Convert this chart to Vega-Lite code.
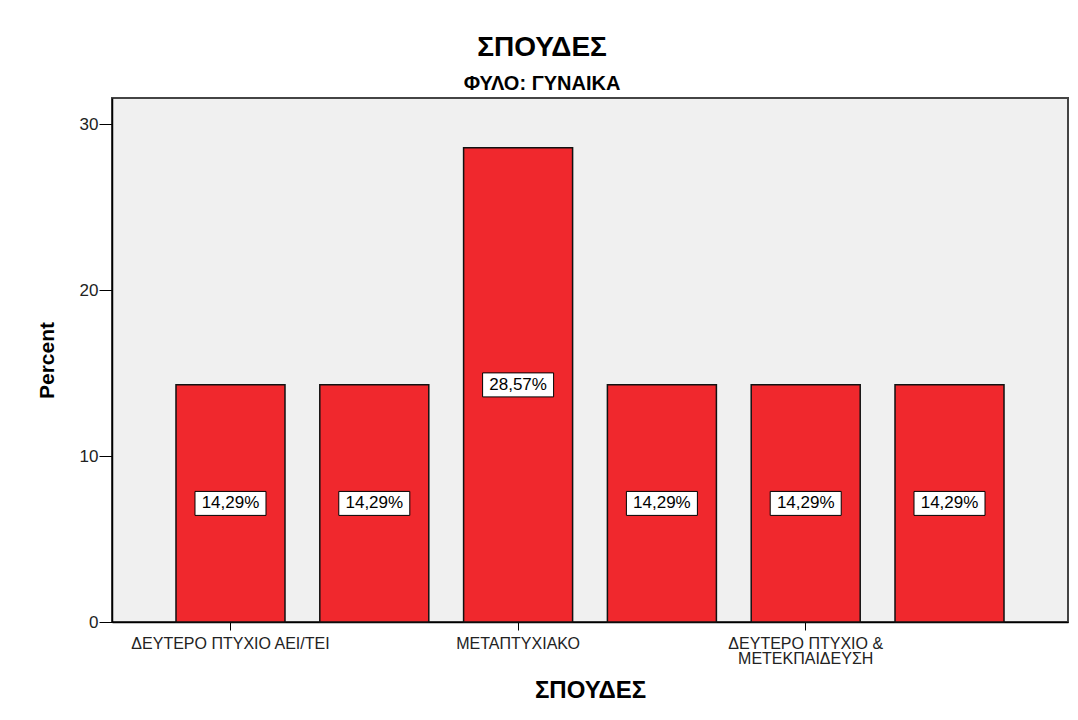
{
  "$schema": "https://vega.github.io/schema/vega-lite/v6.json",
  "width": 956,
  "height": 524,
  "autosize": {"type": "none"},
  "padding": {"left": 112, "top": 98, "right": 10, "bottom": 98},
  "background": "white",
  "config": {
    "font": "Liberation Sans",
    "view": {"fill": "#f0f0f0", "stroke": "#444444", "strokeWidth": 2}
  },
  "title": {
    "text": "ΣΠΟΥΔΕΣ",
    "subtitle": "ΦΥΛΟ: ΓΥΝΑΙΚΑ",
    "font": "Liberation Sans",
    "subtitleFont": "Liberation Sans",
    "fontSize": 28,
    "fontWeight": "bold",
    "subtitleFontSize": 20,
    "subtitleFontWeight": "bold",
    "color": "black",
    "subtitleColor": "black",
    "anchor": "middle",
    "dx": -48,
    "offset": 4,
    "subtitlePadding": 12
  },
  "data": {
    "values": [
      {"studies": "ΔΕΥΤΕΡΟ ΠΤΥΧΙΟ ΑΕΙ/ΤΕΙ", "percent": 14.29},
      {"studies": "ΜΕΤΕΚΠΑΙΔΕΥΣΗ", "percent": 14.29},
      {"studies": "ΜΕΤΑΠΤΥΧΙΑΚΟ", "percent": 28.57},
      {"studies": "ΜΕΤΑΠΤΥΧΙΑΚΟ & ΜΕΤΕΚΠΑΙΔΕΥΣΗ", "percent": 14.29},
      {"studies": "ΔΕΥΤΕΡΟ ΠΤΥΧΙΟ & ΜΕΤΕΚΠΑΙΔΕΥΣΗ", "percent": 14.29},
      {"studies": "ΔΙΔΑΚΤΟΡΙΚΟ", "percent": 14.29}
    ]
  },
  "transform": [
    {"calculate": "datum.percent / 2", "as": "mid"},
    {"calculate": "replace(format(datum.percent, '.2f'), '.', ',') + '%'", "as": "label"}
  ],
  "encoding": {
    "x": {
      "field": "studies",
      "type": "nominal",
      "sort": null,
      "scale": {"paddingInner": 0.242, "paddingOuter": 0.445},
      "axis": {
        "title": "ΣΠΟΥΔΕΣ",
        "values": ["ΔΕΥΤΕΡΟ ΠΤΥΧΙΟ ΑΕΙ/ΤΕΙ", "ΜΕΤΑΠΤΥΧΙΑΚΟ", "ΔΕΥΤΕΡΟ ΠΤΥΧΙΟ & ΜΕΤΕΚΠΑΙΔΕΥΣΗ"],
        "labelAngle": 0,
        "labelExpr": "datum.value == 'ΔΕΥΤΕΡΟ ΠΤΥΧΙΟ & ΜΕΤΕΚΠΑΙΔΕΥΣΗ' ? ['ΔΕΥΤΕΡΟ ΠΤΥΧΙΟ &', 'ΜΕΤΕΚΠΑΙΔΕΥΣΗ'] : datum.value",
        "labelFontSize": 16,
        "labelColor": "#222222",
        "labelLineHeight": 15,
        "labelPadding": 5,
        "labelLimit": 400,
        "tickSize": 8,
        "tickColor": "black",
        "domainColor": "black",
        "domainWidth": 1.5,
        "titleFontSize": 24,
        "titleFontWeight": "bold",
        "titleColor": "black",
        "titleY": 75,
        "titleBaseline": "alphabetic"
      }
    }
  },
  "layer": [
    {
      "mark": {"type": "bar", "fill": "#f0282d", "stroke": "#111111", "strokeWidth": 1.5},
      "encoding": {
        "y": {
          "field": "percent",
          "type": "quantitative",
          "scale": {"domain": [0, 31.57], "nice": false},
          "axis": {
            "title": "Percent",
            "values": [0, 10, 20, 30],
            "grid": false,
            "domainColor": "black",
            "domainWidth": 1.5,
            "tickColor": "black",
            "tickSize": 13,
            "labelPadding": 1,
            "labelFontSize": 17,
            "labelColor": "#222222",
            "titleFontSize": 21,
            "titleFontWeight": "bold",
            "titleColor": "black",
            "titleX": -65,
            "titleY": 262,
            "titleAngle": -90,
            "titleAlign": "center",
            "titleBaseline": "middle"
          }
        }
      }
    },
    {
      "mark": {"type": "point", "shape": "M-1,-0.338L1,-0.338L1,0.338L-1,0.338Z", "size": 5041, "filled": true, "fill": "white", "stroke": "black", "strokeWidth": 1, "opacity": 1},
      "encoding": {"y": {"field": "mid", "type": "quantitative"}}
    },
    {
      "mark": {"type": "text", "fontSize": 17, "color": "black"},
      "encoding": {
        "y": {"field": "mid", "type": "quantitative"},
        "text": {"field": "label"}
      }
    }
  ]
}
